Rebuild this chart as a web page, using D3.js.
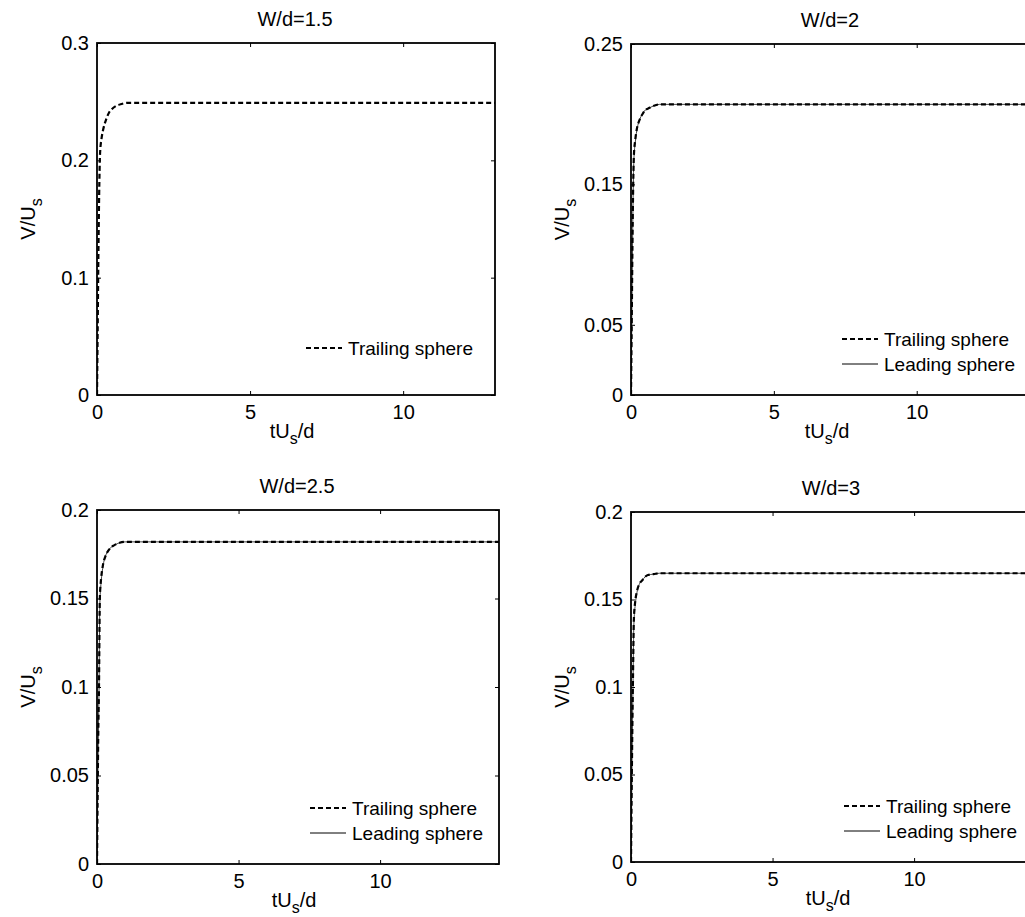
<!DOCTYPE html>
<html>
<head>
<meta charset="utf-8">
<script src="https://cdn.jsdelivr.net/npm/d3@7"></script>
<style>
  body { margin: 0; background: #fff; }
  text { font-family: "Liberation Sans", Arial, sans-serif; fill: #000; }
</style>
</head>
<body>
<div id="chart"></div>
<script>
// time samples (tU_s/d) shared by all panels
const tSamples = [0, 0.02, 0.05, 0.07, 0.1, 0.15, 0.2, 0.3, 0.4, 0.5, 0.6, 0.8, 1.0, 1.5, 2, 4, 6, 8, 10, 12, 14.2];

// panel 1: W/d=1.5
const trail15 = [0, 0.05, 0.13, 0.17, 0.206, 0.219, 0.226, 0.235, 0.241, 0.244, 0.246, 0.248, 0.249, 0.249, 0.249, 0.249, 0.249, 0.249, 0.249, 0.249, 0.249];
// panel 2: W/d=2
const trail20 = [0, 0.04, 0.105, 0.14, 0.17, 0.182, 0.189, 0.196, 0.2, 0.203, 0.204, 0.206, 0.207, 0.207, 0.207, 0.207, 0.207, 0.207, 0.207, 0.207, 0.207];
const lead20  = [0, 0.035, 0.1, 0.135, 0.167, 0.18, 0.188, 0.196, 0.2, 0.203, 0.204, 0.206, 0.207, 0.207, 0.207, 0.207, 0.207, 0.207, 0.207, 0.207, 0.207];
// panel 3: W/d=2.5
const trail25 = [0, 0.035, 0.08, 0.1, 0.15, 0.162, 0.168, 0.174, 0.177, 0.179, 0.18, 0.1815, 0.182, 0.182, 0.182, 0.182, 0.182, 0.182, 0.182, 0.182, 0.182];
const lead25  = [0, 0.03, 0.075, 0.097, 0.147, 0.16, 0.167, 0.174, 0.177, 0.179, 0.18, 0.1815, 0.182, 0.182, 0.182, 0.182, 0.182, 0.182, 0.182, 0.182, 0.182];
// panel 4: W/d=3
const trail30 = [0, 0.035, 0.08, 0.105, 0.138, 0.149, 0.154, 0.159, 0.161, 0.163, 0.164, 0.1645, 0.165, 0.165, 0.165, 0.165, 0.165, 0.165, 0.165, 0.165, 0.165];
const lead30  = [0, 0.03, 0.075, 0.1, 0.135, 0.147, 0.153, 0.159, 0.161, 0.163, 0.164, 0.1645, 0.165, 0.165, 0.165, 0.165, 0.165, 0.165, 0.165, 0.165, 0.165];

const titles = ['W/d=1.5', 'W/d=2', 'W/d=2.5', 'W/d=3'];
const xMax = [13, 14, 14.2, 14.2];
const yMax = [0.3, 0.25, 0.2, 0.2];
const xTicks = [0, 5, 10];
const yTicks = [
  [0, 0.1, 0.2, 0.3],
  [0, 0.05, 0.15, 0.25],
  [0, 0.05, 0.1, 0.15, 0.2],
  [0, 0.05, 0.1, 0.15, 0.2]
];
const trailing = [trail15, trail20, trail25, trail30];
const leading = [null, lead20, lead25, lead30];

// panel boxes [left, top, right, bottom]
const boxes = [
  [97, 43, 495, 395],
  [631, 44, 1031, 395],
  [97, 510, 499, 864],
  [631, 512, 1033, 862]
];

const svg = d3.select('#chart').append('svg')
  .attr('width', 1025)
  .attr('height', 917);

boxes.forEach((b, i) => {
  const [x0, y0, x1, y1] = b;
  const x = d3.scaleLinear().domain([0, xMax[i]]).range([x0, x1]);
  const y = d3.scaleLinear().domain([0, yMax[i]]).range([y1, y0]);
  const g = svg.append('g');

  g.append('clipPath').attr('id', 'clip' + i)
    .append('rect').attr('x', x0).attr('y', y0).attr('width', x1 - x0).attr('height', y1 - y0);

  const line = d3.line()
    .x((d, k) => x(tSamples[k]))
    .y(d => y(d))
    .curve(d3.curveMonotoneX);

  const plot = g.append('g').attr('clip-path', 'url(#clip' + i + ')');
  if (leading[i]) {
    plot.append('path').datum(leading[i])
      .attr('d', line).attr('fill', 'none')
      .attr('stroke', '#444').attr('stroke-width', 1);
  }
  plot.append('path').datum(trailing[i])
    .attr('d', line).attr('fill', 'none')
    .attr('stroke', '#000').attr('stroke-width', 2.2)
    .attr('stroke-dasharray', '5,3');

  // axes with inward ticks on all sides
  g.append('g').attr('transform', `translate(0,${y1})`)
    .call(d3.axisBottom(x).tickValues(xTicks).tickSize(-4).tickPadding(10).tickFormat(d3.format('')))
    .call(a => a.select('.domain').remove());
  g.append('g').attr('transform', `translate(0,${y0})`)
    .call(d3.axisTop(x).tickValues(xTicks).tickSize(-4).tickFormat(''))
    .call(a => a.select('.domain').remove());
  g.append('g').attr('transform', `translate(${x0},0)`)
    .call(d3.axisLeft(y).tickValues(yTicks[i]).tickSize(-4).tickPadding(8).tickFormat(d3.format('')))
    .call(a => a.select('.domain').remove());
  g.append('g').attr('transform', `translate(${x1},0)`)
    .call(d3.axisRight(y).tickValues(yTicks[i]).tickSize(-4).tickFormat(''))
    .call(a => a.select('.domain').remove());

  g.selectAll('.tick text').attr('font-size', 20).attr('fill', '#000')
    .style('font-family', '"Liberation Sans", Arial, sans-serif');
  g.selectAll('.tick line').attr('stroke', '#000').attr('stroke-width', 1);

  g.append('rect')
    .attr('x', x0).attr('y', y0).attr('width', x1 - x0).attr('height', y1 - y0)
    .attr('fill', 'none').attr('stroke', '#000').attr('stroke-width', 1.8);

  // title
  g.append('text')
    .attr('x', (x0 + x1) / 2 - 1).attr('y', y0 - 17)
    .attr('text-anchor', 'middle').attr('font-size', 20)
    .text(titles[i]);

  // x label
  const xl = g.append('text')
    .attr('x', (x0 + x1) / 2 - 4).attr('y', y1 + 43)
    .attr('text-anchor', 'middle').attr('font-size', 20);
  xl.append('tspan').text('tU');
  xl.append('tspan').attr('dy', 6).attr('font-size', 16).text('s');
  xl.append('tspan').attr('dy', -6).text('/d');

  // y label
  const yl = g.append('text')
    .attr('transform', `translate(${x0 - 62},${(y0 + y1) / 2}) rotate(-90)`)
    .attr('text-anchor', 'middle').attr('font-size', 20);
  yl.append('tspan').text('V/U');
  yl.append('tspan').attr('dy', 7).attr('font-size', 16).text('s');

  // legend
  const names = leading[i] ? ['Trailing sphere', 'Leading sphere'] : ['Trailing sphere'];
  const rows = leading[i] ? [y1 - 56, y1 - 31] : [y1 - 47];
  const lx = x1 - 189;
  names.forEach((name, k) => {
    const ly = rows[k];
    g.append('line')
      .attr('x1', lx).attr('x2', lx + 36).attr('y1', ly).attr('y2', ly)
      .attr('stroke', '#000')
      .attr('stroke-width', k === 0 ? 2.2 : 1)
      .attr('stroke-dasharray', k === 0 ? '5,3' : null);
    g.append('text')
      .attr('x', lx + 42).attr('y', ly + 7)
      .attr('font-size', 19)
      .text(name);
  });
});
</script>
</body>
</html>
